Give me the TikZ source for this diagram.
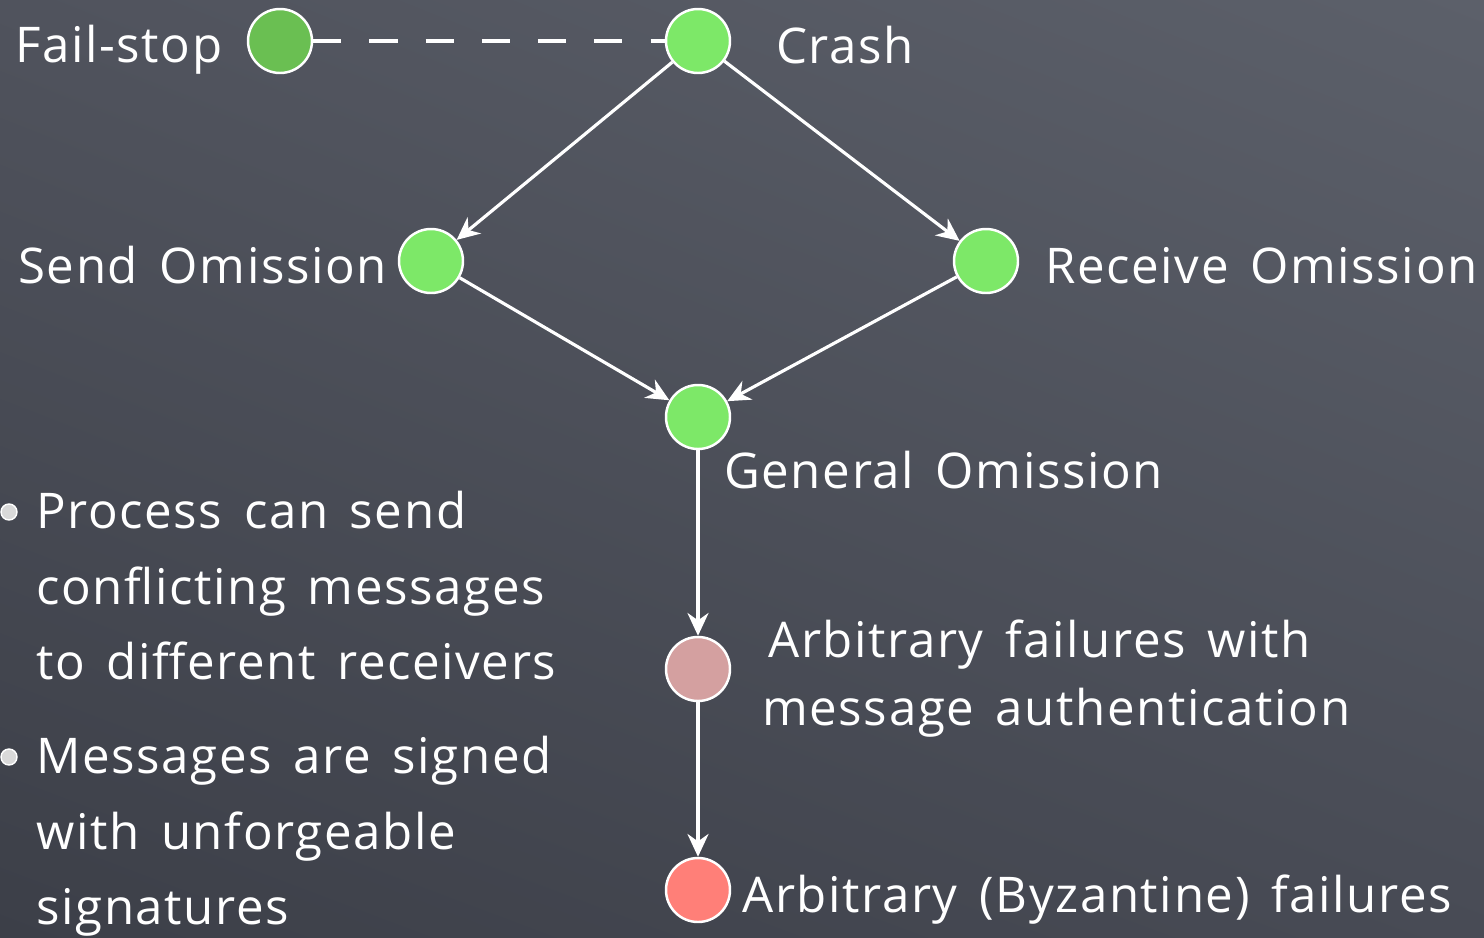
\documentclass[tikz,border=0pt]{standalone}
\usepackage{fontspec}
\setmainfont{Open Sans}[LetterSpace=3.3, WordSpace=1.5]
\usepackage{xcolor}
\usepackage{tikz}
\usetikzlibrary{arrows.meta, positioning, shadings}

\definecolor{boardul}{RGB}{80,83,93}
\definecolor{boardur}{RGB}{92,96,106}
\definecolor{boardll}{RGB}{60,63,72}
\definecolor{boardlr}{RGB}{72,75,85}
\definecolor{stopgreen}{RGB}{106,191,82}
\definecolor{lightgreen}{RGB}{125,232,104}
\definecolor{authpink}{RGB}{212,160,160}
\definecolor{byzred}{RGB}{255,127,120}

\begin{document}
\begin{tikzpicture}[x=0.02cm, y=-0.02cm,
    state/.style={circle, draw=white, line width=1.4pt, minimum size=1.28cm, inner sep=0pt},
    label/.style={text=white, font=\fontsize{28}{43}\selectfont, inner sep=0pt},
    edge/.style={draw=white, line width=1.8pt, -{Stealth[length=13pt, width=12pt]}},
    swirl/.style={circle, fill=white!70!gray, draw=white, line width=0.8pt, minimum size=0.32cm, inner sep=0pt}]

  \shade[upper left=boardul, upper right=boardur, lower left=boardll, lower right=boardlr]
    (0,0) rectangle (1484,937);
  \useasboundingbox (0,0) rectangle (1484,937);

  % failure model states
  \node[state, fill=stopgreen]  (failstop) at (280,41)  {};
  \node[state, fill=lightgreen] (crash)    at (698,41)  {};
  \node[state, fill=lightgreen] (send)     at (431,261) {};
  \node[state, fill=lightgreen] (receive)  at (986,261) {};
  \node[state, fill=lightgreen] (general)  at (698,417) {};
  \node[state, fill=authpink]   (auth)     at (698,669) {};
  \node[state, fill=byzred]     (byz)      at (698,890) {};

  \draw[white, line width=2.2pt, dash pattern=on 16pt off 16pt] (failstop) -- (crash);
  \draw[edge] (crash) -- (send);
  \draw[edge] (crash) -- (receive);
  \draw[edge] (send) -- (general);
  \draw[edge] (receive) -- (general);
  \draw[edge] (general) -- (auth);
  \draw[edge] (auth) -- (byz);

  % labels
  \node[label, anchor=base west] (failstoplbl) at (15,62)   {Fail-stop};
  \node[label, anchor=base west] (crashlbl)    at (776,63)  {Crash};
  \node[label, anchor=base west] (sendlbl)     at (18,283)  {Send Omission};
  \node[label, anchor=base west] (receivelbl)  at (1045,283) {Receive Omission};
  \node[label, anchor=base west] (generallbl)  at (724,488) {General Omission};
  \node[label, anchor=base west] (authlbl1)    at (768,657) {Arbitrary failures with};
  \node[label, anchor=base west] (authlbl2)    at (762,725) {message authentication};
  \node[label, anchor=base west] (byzlbl)      at (742,912) {Arbitrary (Byzantine) failures};

  % notes on the left
  \node[swirl] (dot1) at (9,512) {};
  \node[swirl] (dot2) at (9,757) {};
  \node[label, anchor=north west, align=left] (note1) at (36,491)
    {Process can send\\conflicting messages\\to different receivers};
  \node[label, anchor=north west, align=left] (note2) at (36,736)
    {Messages are signed\\with unforgeable\\signatures};
\end{tikzpicture}
\end{document}
